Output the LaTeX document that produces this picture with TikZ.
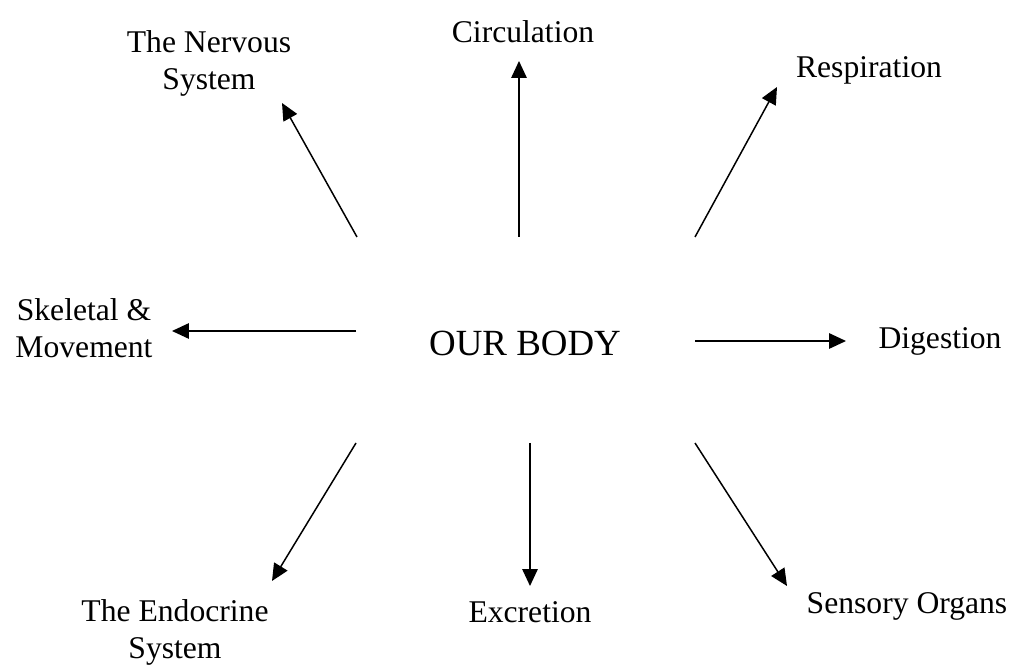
\documentclass[tikz,border=0pt]{standalone}
\usepackage{fontspec}
\setmainfont{Liberation Serif}
\usetikzlibrary{arrows.meta}
\begin{document}
\begin{tikzpicture}[x=0.02cm,y=-0.02cm,
  lbl/.style={font=\fontsize{18}{21}\selectfont, align=center, inner sep=0pt},
  hub/.style={font=\fontsize{21}{24}\selectfont, inner sep=0pt},
  link/.style={line width=0.85pt, -{Triangle[length=0.34cm,width=0.31cm]}}]
\useasboundingbox (0,0) rectangle (1014,668);

% centre and surrounding systems
\node[hub] (body) at (525,343) {OUR BODY};
\node[lbl] (nerv) at (209,63) {The Nervous\\System};
\node[lbl] (circ) at (523,32) {Circulation};
\node[lbl] (resp) at (869,70) {Respiration};
\node[lbl] (skel) at (84,328) {Skeletal \&\\Movement};
\node[lbl] (dige) at (940,341) {Digestion};
\node[lbl] (endo) at (175,632) {The Endocrine\\System};
\node[lbl] (excr) at (530,612) {Excretion};
\node[lbl] (sens) at (907,606) {Sensory Organs};

% arrow ends
\coordinate (nervA) at (357,237); \coordinate (nervB) at (282,103);
\coordinate (circA) at (519,237); \coordinate (circB) at (519,61);
\coordinate (respA) at (695,237); \coordinate (respB) at (777,87);
\coordinate (skelA) at (356,331); \coordinate (skelB) at (172,331);
\coordinate (digeA) at (695,341); \coordinate (digeB) at (846,341);
\coordinate (endoA) at (356,443); \coordinate (endoB) at (272,581);
\coordinate (excrA) at (530,443); \coordinate (excrB) at (530,586);
\coordinate (sensA) at (695,443); \coordinate (sensB) at (787,586);

\foreach \n in {nerv,circ,resp,skel,dige,endo,excr,sens}
  \draw[link] (\n A) -- (\n B);
\end{tikzpicture}
\end{document}
